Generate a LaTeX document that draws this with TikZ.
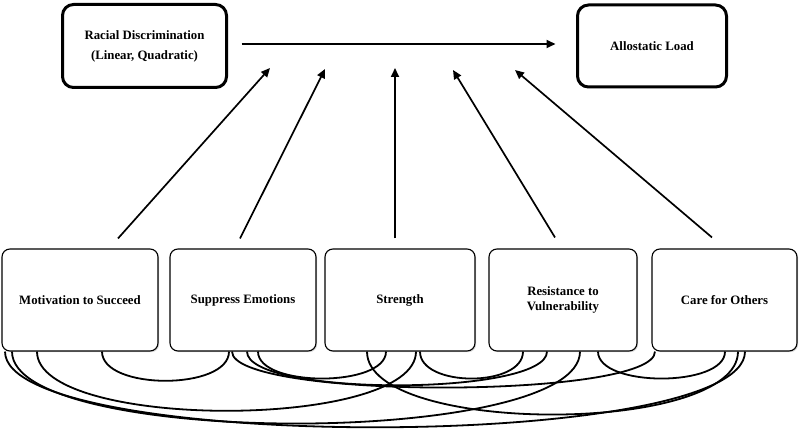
\documentclass[tikz,border=0pt]{standalone}
\usepackage{fontspec}
\setmainfont{Liberation Serif}
\usetikzlibrary{arrows.meta,shadows}
\begin{document}
\begin{tikzpicture}[x=1pt,y=-1pt,
  lbl/.style={align=center, font=\bfseries\fontsize{12.8}{14.3}\selectfont},
  topbox/.style={lbl, draw, fill=white, line width=3pt, rounded corners=11pt, inner sep=2pt,
    drop shadow={shadow xshift=1.2pt, shadow yshift=-1.2pt, opacity=0.3}},
  botbox/.style={lbl, draw, fill=white, line width=1.1pt, rounded corners=8pt, inner sep=2pt,
    minimum height=102pt,
    drop shadow={shadow xshift=1.2pt, shadow yshift=-1.2pt, opacity=0.3}},
  arr/.style={line width=1.7pt, -{Triangle[length=9pt,width=8pt]}},
  link/.style={line width=1.8pt}]
\useasboundingbox (0,0) rectangle (800,433);

% top boxes
\node[topbox, minimum width=164pt, minimum height=83pt] (rd) at (144.5,46)
  {Racial Discrimination\\[5.7pt](Linear, Quadratic)};
\node[topbox, minimum width=149pt, minimum height=82pt] (al) at (652,46) {Allostatic Load};

% bottom boxes
\node[botbox, minimum width=156pt] (m)  at (80,300)   {Motivation to Succeed};
\node[botbox, minimum width=146pt] (se) at (243,300)  {Suppress Emotions};
\node[botbox, minimum width=150pt] (st) at (400,300)  {Strength};
\node[botbox, minimum width=148pt] (rv) at (563,300)  {Resistance to\\Vulnerability};
\node[botbox, minimum width=145pt] (co) at (724.5,300) {Care for Others};

% main arrow
\draw[arr] ([xshift=13.5pt,yshift=2pt]rd.east) -- ([xshift=-20.5pt,yshift=2pt]al.west);

% moderator arrow targets
\coordinate (t1) at (270,68);
\coordinate (t2) at (325,69);
\coordinate (t3) at (395,68);
\coordinate (t4) at (453,70);
\coordinate (t5) at (515,70);

\draw[arr] ([xshift=38pt,yshift=10pt]m.north)   -- (t1);
\draw[arr] ([xshift=-3pt,yshift=10pt]se.north)  -- (t2);
\draw[arr] ([xshift=-5pt,yshift=10pt]st.north)  -- (t3);
\draw[arr] ([xshift=-8pt,yshift=11pt]rv.north)  -- (t4);
\draw[arr] ([xshift=-12.5pt,yshift=11pt]co.north) -- (t5);

% correlation curves
\draw[link] ([xshift=22pt]m.south)  .. controls +(0,39) and +(0,39) .. ([xshift=-14pt]se.south);
\draw[link] ([xshift=-43pt]m.south) .. controls +(0,79) and +(0,79) .. ([xshift=16pt]st.south);
\draw[link] ([xshift=-68pt]m.south) .. controls +(0,96) and +(0,96) .. ([xshift=17pt]rv.south);
\draw[link] ([xshift=-75pt]m.south) .. controls +(0,101) and +(0,101) .. ([xshift=20.5pt]co.south);
\draw[link] ([xshift=15pt]se.south) .. controls +(0,36) and +(0,36) .. ([xshift=-14pt]st.south);
\draw[link] ([xshift=4pt]se.south)  .. controls +(0,45) and +(0,45) .. ([xshift=-16pt]rv.south);
\draw[link] ([xshift=-11pt]se.south) .. controls +(0,48) and +(0,48) .. ([xshift=-69.5pt]co.south);
\draw[link] ([xshift=20pt]st.south) .. controls +(0,36) and +(0,36) .. ([xshift=-40pt]rv.south);
\draw[link] ([xshift=-33pt]st.south) .. controls +(0,84) and +(0,84) .. ([xshift=13.5pt]co.south);
\draw[link] ([xshift=35pt]rv.south) .. controls +(0,36) and +(0,36) .. ([xshift=0.5pt]co.south);
\end{tikzpicture}
\end{document}
